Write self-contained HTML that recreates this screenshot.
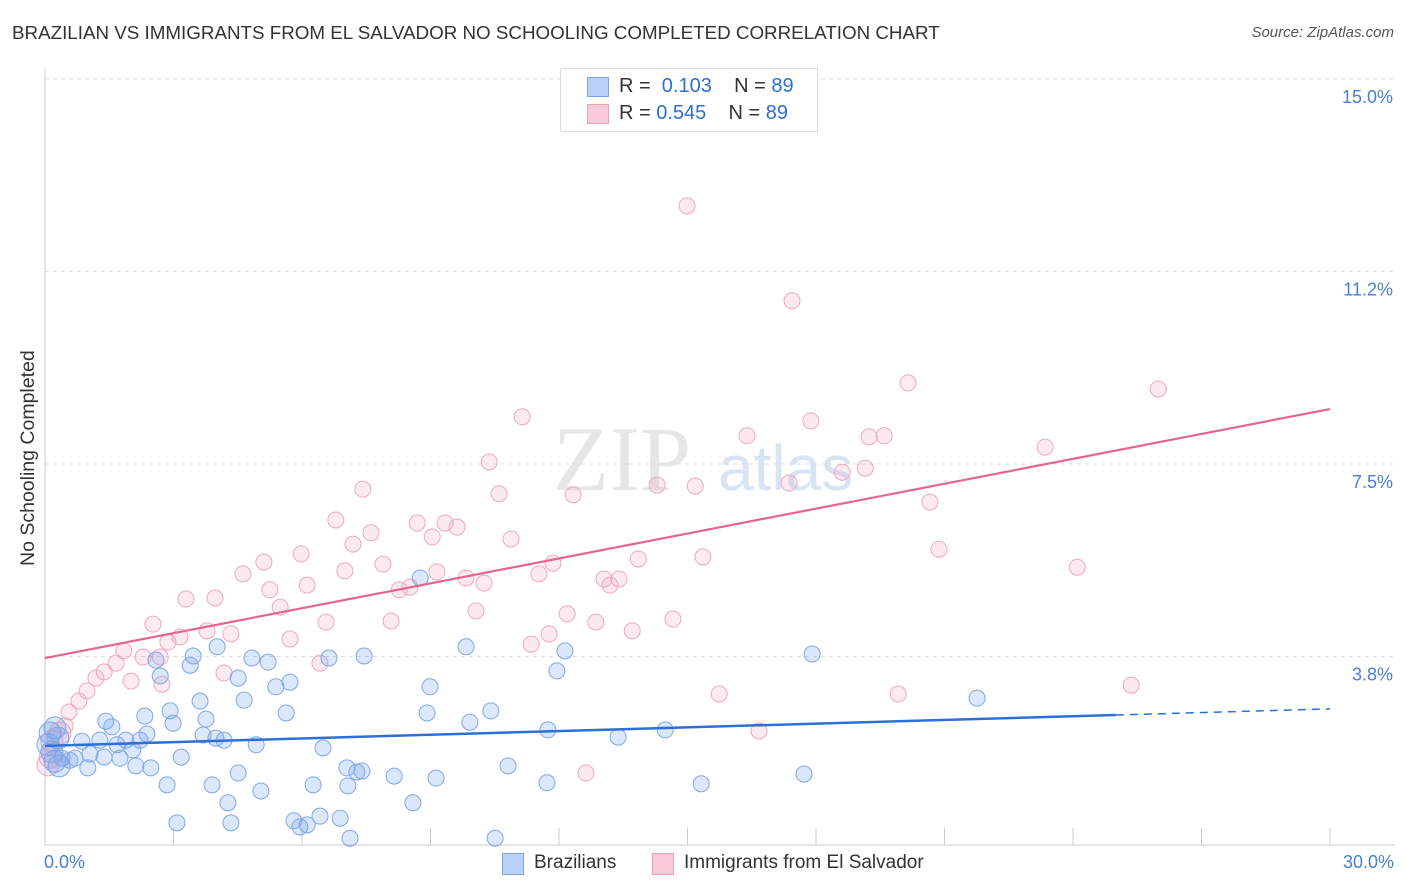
<!DOCTYPE html>
<html><head><meta charset="utf-8"><style>
body{margin:0;background:#fff;font-family:"Liberation Sans",sans-serif}
#wrap{position:relative;width:1406px;height:892px}
.t{position:absolute;white-space:nowrap}
</style></head><body>
<div id="wrap">
<div class="t" style="left:12px;top:22px;font-size:18.8px;color:#333">BRAZILIAN VS IMMIGRANTS FROM EL SALVADOR NO SCHOOLING COMPLETED CORRELATION CHART</div>
<div class="t" style="right:12px;top:24px;font-size:15px;color:#555;font-style:italic">Source: ZipAtlas.com</div>
<svg id="svg" width="1406" height="892" style="position:absolute;left:0;top:0"></svg>
</div>
<script>
const xTicks=[0,3,6,9,12,15,18,21,24,27,30];
const yTicks=[3.75,7.5,11.25,15];
const yTickLabels=["3.8%","7.5%","11.2%","15.0%"];
const blueX=[8.76,9.83,12.14,17.91,3.46,4.02,2.59,4.83,5.21,6.63,7.45,3.39,2.69,4.51,11.95,21.76,5.39,5.72,8.99,3.62,4.65,2.92,2.33,5.63,8.92,10.41,1.42,1.56,3.76,2.99,9.92,11.74,14.48,13.38,2.38,3.69,3.99,4.18,1.89,2.22,1.28,0.86,4.93,6.49,1.68,2.05,1.05,1.38,0.70,0.40,0.23,0.58,1.75,2.12,2.47,3.18,1.00,0.33,7.05,7.28,4.51,7.40,8.15,9.13,10.81,11.72,15.32,17.72,2.85,3.90,6.26,7.07,5.04,4.27,8.59,6.42,3.08,4.34,5.81,5.95,6.12,6.89,7.12,10.51,0.23,0.12,0.07,0.16,0.30];
const blueY=[5.28,3.94,3.86,3.80,3.76,3.94,3.68,3.72,3.64,3.72,3.76,3.58,3.37,3.33,3.47,2.94,3.16,3.25,3.16,2.88,2.90,2.69,2.59,2.65,2.65,2.69,2.49,2.38,2.53,2.45,2.47,2.32,2.32,2.18,2.24,2.22,2.16,2.12,2.12,2.12,2.12,2.10,2.03,1.97,2.03,1.93,1.85,1.79,1.77,1.77,1.71,1.73,1.77,1.62,1.58,1.79,1.58,1.62,1.58,1.50,1.48,1.52,1.42,1.38,1.62,1.29,1.27,1.46,1.25,1.25,1.25,1.23,1.13,0.90,0.90,0.64,0.51,0.51,0.55,0.43,0.47,0.60,0.21,0.21,2.36,2.26,2.03,1.89,2.16];
const pinkX=[14.99,17.44,20.15,25.99,11.14,17.88,16.39,19.24,19.59,23.35,10.37,7.42,10.60,12.33,14.29,15.18,17.37,18.61,19.15,20.66,6.79,8.69,9.34,9.62,7.61,9.04,10.88,7.19,5.98,5.11,4.62,7.89,11.86,13.85,15.36,20.87,24.10,7.00,9.15,9.83,10.25,11.53,13.05,13.40,5.25,6.12,8.52,8.27,13.19,3.29,3.97,5.49,10.06,12.19,6.56,8.08,12.86,14.66,2.52,3.78,3.15,4.34,5.72,11.77,11.35,13.71,2.87,2.29,1.84,1.66,2.69,6.42,1.38,2.01,4.18,2.73,1.19,0.98,0.79,0.56,0.47,0.35,0.16,0.12,0.07,15.74,19.92,25.36,16.67,12.63];
const pinkY=[12.53,10.68,9.08,8.96,8.42,8.34,8.05,8.03,8.05,7.83,7.54,7.01,6.92,6.90,7.09,7.07,7.13,7.34,7.42,6.76,6.41,6.35,6.35,6.27,6.16,6.08,6.04,5.94,5.75,5.59,5.36,5.55,5.57,5.65,5.69,5.84,5.49,5.42,5.40,5.28,5.18,5.36,5.26,5.26,5.05,5.14,5.10,5.05,5.14,4.87,4.89,4.71,4.64,4.58,4.42,4.44,4.42,4.48,4.38,4.25,4.13,4.19,4.09,4.19,3.99,4.25,4.03,3.74,3.86,3.62,3.74,3.62,3.45,3.27,3.43,3.21,3.33,3.08,2.88,2.67,2.40,2.26,2.10,1.79,1.64,3.02,3.02,3.19,2.30,1.48];
const blueLine=[2.01,0.024];
const pinkLine=[3.72,0.1617];
const X=v=>45+v*1285/30, Y=v=>849-v*51.33;
const svg=document.getElementById('svg');const NS='http://www.w3.org/2000/svg';
function mk(t,a){const e=document.createElementNS(NS,t);for(const k in a)e.setAttribute(k,a[k]);svg.appendChild(e);return e;}
let wm=mk('text',{x:553,y:490,'font-size':92,fill:'#e6e6e6','font-family':'Liberation Serif'});wm.textContent='ZIP';


let wm2=mk('text',{x:718,y:490,'font-size':64,fill:'#d8e4f4','font-family':'Liberation Sans'});wm2.textContent='atlas';


yTicks.forEach((v,i)=>{
 const g=mk('line',{x1:45,x2:1395,y1:Y(v),y2:Y(v),stroke:'#ddd','stroke-dasharray':'4,4'});
 
 
 const t=mk('text',{x:1393,y:Y(v)+24,'text-anchor':'end','font-size':18,fill:'#4a7fd4'});t.textContent=yTickLabels[i];
 
 
});
mk('line',{x1:45,x2:45,y1:68,y2:845,stroke:'#ccc'});
mk('line',{x1:45,x2:1395,y1:845,y2:845,stroke:'#ccc'});
xTicks.forEach(v=>{const l=mk('line',{x1:X(v),x2:X(v),y1:828,y2:845,stroke:'#ccc'});
 
 });
function dots(xs,ys,fill,stroke,name){xs.forEach((x,i)=>{const r=(x<0.4)?11:8;
 const c=mk('circle',{cx:X(x),cy:Y(ys[i]),r:r,fill:fill,stroke:stroke,'stroke-width':1});
 
 });}
dots(pinkX,pinkY,'rgba(240,150,180,0.2)','#eda9c1','pink-point');
dots(blueX,blueY,'rgba(110,160,235,0.25)','#7fa7e6','blue-point');
let bl=mk('line',{x1:X(0),y1:Y(blueLine[0]),x2:X(25),y2:Y(blueLine[0]+25*blueLine[1]),stroke:'#2c6fd6','stroke-width':2.5});


let bd=mk('line',{x1:X(25),y1:Y(blueLine[0]+25*blueLine[1]),x2:X(30),y2:Y(blueLine[0]+30*blueLine[1]),stroke:'#2c6fd6','stroke-width':1.5,'stroke-dasharray':'8,6'});


let pl=mk('line',{x1:X(0),y1:Y(pinkLine[0]),x2:X(30),y2:Y(pinkLine[0]+30*pinkLine[1]),stroke:'#e4658f','stroke-width':2.2});


</script>
<div class="t" style="left:44px;top:852px;font-size:18px;color:#4a7fd4">0.0%</div>
<div class="t" style="right:12px;top:852px;font-size:18px;color:#4a7fd4">30.0%</div>
<div class="t" style="font-size:19.5px;color:#333;transform:rotate(-90deg);transform-origin:0 0;left:17px;top:566px">No Schooling Completed</div>
<div style="position:absolute;left:560px;top:68px;width:256px;height:62px;border:1px solid #ddd;background:#fff;font-size:20px">
 <div class="t" style="left:26px;top:8px;width:20px;height:18px;background:#b9d1f5;border:1px solid #7aa3e0"></div>
 <div class="t" style="left:58px;top:6px;color:#333">R = <span style="color:#2c6fd6">&nbsp;0.103</span>&nbsp;&nbsp;&nbsp; N = <span style="color:#2c6fd6">89</span></div>
 <div class="t" style="left:26px;top:35px;width:20px;height:18px;background:#f9cbd9;border:1px solid #eaa0bb"></div>
 <div class="t" style="left:58px;top:33px;color:#333">R = <span style="color:#2c6fd6">0.545</span>&nbsp;&nbsp;&nbsp; N = <span style="color:#2c6fd6">89</span></div>
</div>
<div class="t" style="left:502px;top:853px;width:20px;height:20px;background:#b9d1f5;border:1px solid #7aa3e0"></div>
<div class="t" style="left:534px;top:852px;font-size:19px;color:#333">Brazilians</div>
<div class="t" style="left:652px;top:853px;width:20px;height:20px;background:#f9cbd9;border:1px solid #eaa0bb"></div>
<div class="t" style="left:684px;top:852px;font-size:19px;color:#333">Immigrants from El Salvador</div>
</body></html>
